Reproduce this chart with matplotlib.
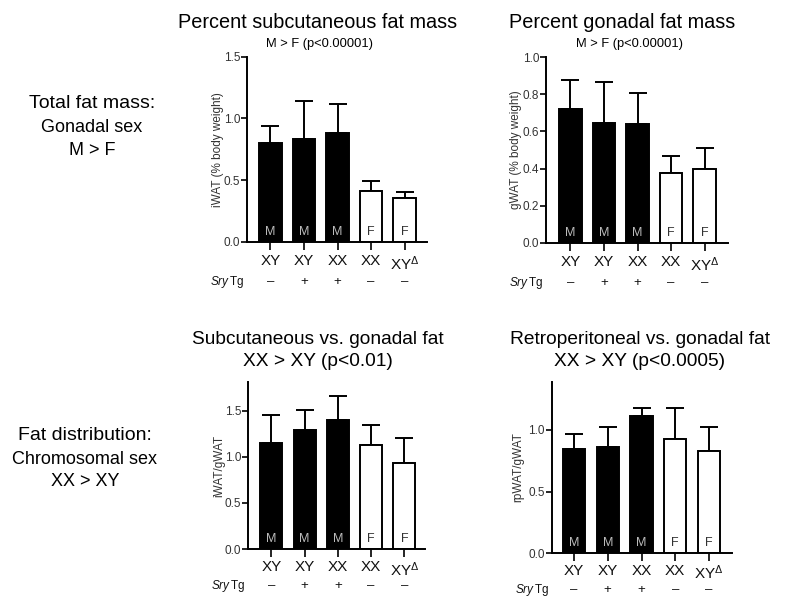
import matplotlib
matplotlib.use("Agg")
import matplotlib.pyplot as plt
import matplotlib.transforms as mtransforms
import numpy as np

# ---------------- data ----------------
genotypes = ["XY", "XY", "XX", "XX", r"XY$^{\Delta}$"]
sry_tg = ["–", "+", "+", "–", "–"]
gonadal_sex = ["M", "M", "M", "F", "F"]

iwat_pct_mean = [0.80, 0.83, 0.885, 0.415, 0.355]
iwat_pct_err = [0.135, 0.31, 0.235, 0.075, 0.045]

gwat_pct_mean = [0.72, 0.647, 0.64, 0.374, 0.396]
gwat_pct_err = [0.155, 0.222, 0.165, 0.095, 0.117]

iwat_gwat_mean = [1.15, 1.29, 1.40, 1.13, 0.93]
iwat_gwat_err = [0.30, 0.22, 0.26, 0.21, 0.27]

rpwat_gwat_mean = [0.843, 0.865, 1.113, 0.927, 0.832]
rpwat_gwat_err = [0.125, 0.155, 0.067, 0.25, 0.19]

# ---------------- style ----------------
plt.rcParams["font.family"] = ["Liberation Sans", "DejaVu Sans"]
plt.rcParams["mathtext.fontset"] = "custom"
plt.rcParams["mathtext.rm"] = "Liberation Sans"
plt.rcParams["mathtext.it"] = "Liberation Sans:italic"
plt.rcParams["mathtext.bf"] = "Liberation Sans:bold"
NARROW = ["Liberation Sans Narrow", "Liberation Sans", "DejaVu Sans"]

W, H = 795, 598
fig = plt.figure(figsize=(W / 100, H / 100), dpi=100)


def rect(x0, x1, ytop, ybot):
    return [x0 / W, 1 - ybot / H, (x1 - x0) / W, (ybot - ytop) / H]


def panel(r, means, errs, ylim, yticks, ylabel, xlim, ylabel_x, row_off,
          xpad):
    ax = fig.add_axes(r)
    x = np.arange(len(means))
    colors = ["black" if s == "M" else "white" for s in gonadal_sex]
    ax.bar(x, means, width=0.66, color=colors, edgecolor="black",
           linewidth=1.4, zorder=2)
    ax.errorbar(x, means, yerr=[np.zeros(len(errs)), errs], fmt="none",
                ecolor="black", elinewidth=1.4, capsize=6.5, capthick=1.4,
                zorder=1)
    ax.set_xlim(*xlim)
    ax.set_ylim(*ylim)
    ax.set_yticks(yticks)
    ax.set_yticklabels([f"{t:.1f}" for t in yticks], family=NARROW,
                       fontsize=8.5, color="#333333")
    ax.set_xticks(x)
    ax.set_xticklabels(genotypes, family=NARROW, fontsize=11,
                       color="#111111")
    for s in ["top", "right"]:
        ax.spines[s].set_visible(False)
    for s in ["left", "bottom"]:
        ax.spines[s].set_linewidth(1.4)
    ax.tick_params(axis="y", direction="out", length=4, width=1.2, pad=1)
    ax.tick_params(axis="x", direction="out", length=6, width=1.2, pad=xpad)
    ax.set_ylabel(ylabel, family=NARROW, fontsize=8.5, color="#333333")
    ax.yaxis.set_label_coords(ylabel_x, 0.5)
    # sex letters inside bars
    for i, s in enumerate(gonadal_sex):
        ax.annotate(s, xy=(i, 0), xytext=(0, 3), textcoords="offset points",
                    ha="center", va="bottom", family=NARROW, fontsize=9,
                    color="#bbbbbb" if s == "M" else "#333333", zorder=3)
    # Sry Tg row
    trans = mtransforms.blended_transform_factory(ax.transData, ax.transAxes)
    for i, s in enumerate(sry_tg):
        ax.annotate(s, xy=(i, 0), xycoords=trans, xytext=(0, row_off),
                    textcoords="offset points", ha="center", va="center",
                    family=NARROW, fontsize=9.5, color="#111111")
    ax.annotate(r"$\mathit{Sry}\,$Tg", xy=(0, 0), xycoords="axes fraction",
                xytext=(-2, row_off), textcoords="offset points", ha="right",
                va="center", family=NARROW, fontsize=8.5, color="#111111")
    return ax


panel(rect(247, 427, 56.7, 241.7), iwat_pct_mean, iwat_pct_err,
      (0, 1.5), [0, 0.5, 1.0, 1.5], "iWAT (% body weight)", (-0.70, 4.67),
      -0.13, -29, 3)
panel(rect(546, 728, 57.3, 242.7), gwat_pct_mean, gwat_pct_err,
      (0, 1.0), [0, 0.2, 0.4, 0.6, 0.8, 1.0], "gWAT (% body weight)",
      (-0.73, 4.70), -0.13, -29, 3)
panel(rect(248, 425, 382, 549), iwat_gwat_mean, iwat_gwat_err,
      (0, 1.81), [0, 0.5, 1.0, 1.5], "iWAT/gWAT", (-0.70, 4.62), -0.13,
      -27, 2)
panel(rect(551.7, 732, 381.7, 553.3), rpwat_gwat_mean, rpwat_gwat_err,
      (0, 1.39), [0, 0.5, 1.0], "rpWAT/gWAT", (-0.66, 4.68), -0.15,
      -26.5, 1.5)


def ftext(x, y, s, size, **kw):
    fig.text(x / W, 1 - y / H, s, fontsize=size, ha="center", va="center",
             **kw)


# titles
ftext(318, 22, "Percent subcutaneous fat mass", 14.3)
ftext(319, 44, "M > F (p<0.00001)", 9.3)
ftext(622, 22, "Percent gonadal fat mass", 14.3)
ftext(630, 44, "M > F (p<0.00001)", 9.3)
ftext(318, 339, "Subcutaneous vs. gonadal fat", 13.8)
ftext(318, 362, "XX > XY (p<0.01)", 13.8)
ftext(640, 339, "Retroperitoneal vs. gonadal fat", 13.8)
ftext(640, 362, "XX > XY (p<0.0005)", 13.8)

# left side labels
ftext(92, 103, "Total fat mass:", 14)
ftext(92, 128, "Gonadal sex", 13)
ftext(92, 151, "M > F", 13)
ftext(85, 436, "Fat distribution:", 14)
ftext(85, 459, "Chromosomal sex", 13)
ftext(85, 481, "XX > XY", 13)

fig.savefig("out.png", dpi=100)
